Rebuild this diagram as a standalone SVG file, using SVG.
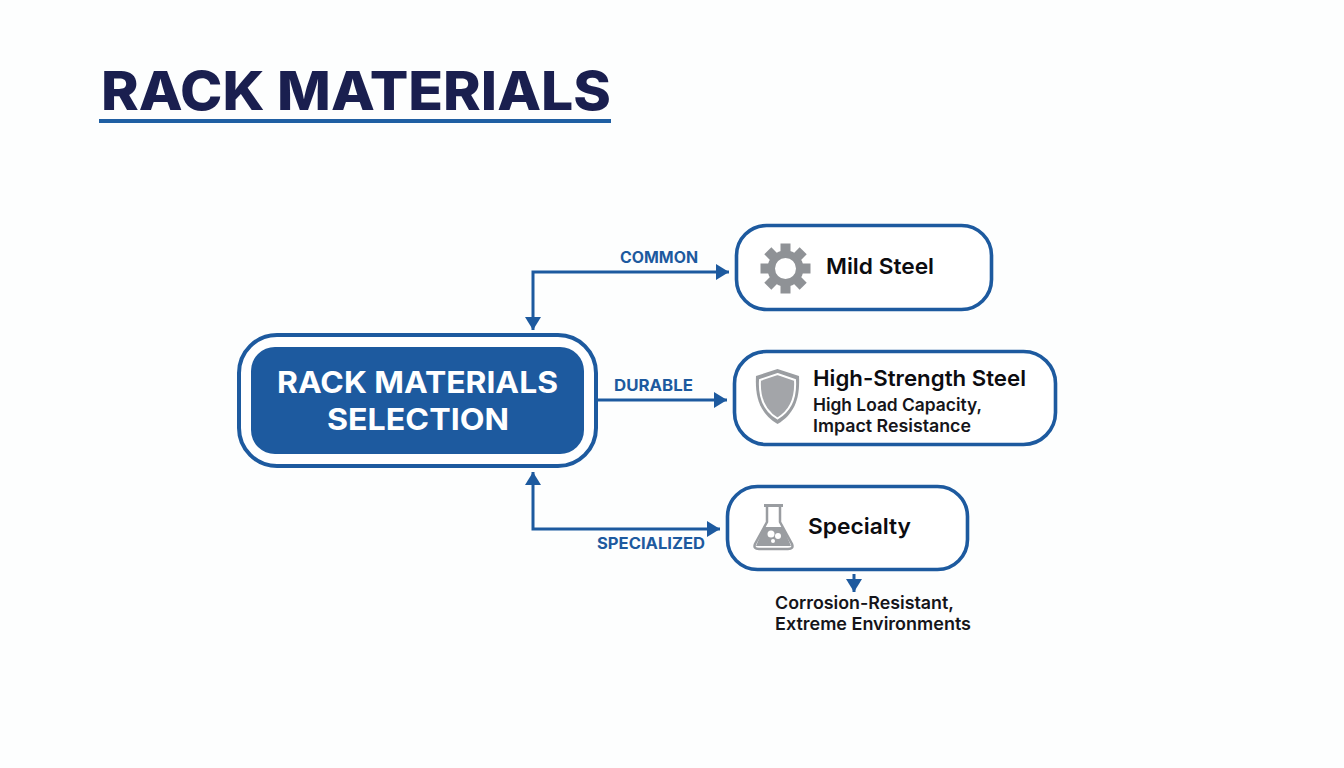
<svg xmlns="http://www.w3.org/2000/svg" width="1344" height="768" viewBox="0 0 1344 768">
<style>
text{font-family:Inter,"Liberation Sans",sans-serif}
.box{fill:#fff;stroke:#1d5a9f;stroke-width:3.600}
.con{fill:none;stroke:#1d5a9f;stroke-width:3}
.lab{font-size:15.500px;font-weight:700;fill:#1d5a9f}
.h{font-size:22px;font-weight:600;fill:#0c0c10}
.s{font-size:17.500px;font-weight:600;fill:#15151a}
.ic{fill:#8f9296}
</style>
<defs>
<marker id="arr" markerUnits="userSpaceOnUse" markerWidth="14" markerHeight="18" refX="13" refY="8" orient="auto-start-reverse"><path d="M0 0L13 8L0 16Z" fill="#1d5a9f"/></marker>
</defs>
<rect width="1344" height="768" fill="#fdfefe"/>
<g id="title">
<text x="101" y="110" font-size="54" font-weight="800" fill="#1a1f4f" textLength="510" lengthAdjust="spacingAndGlyphs">RACK MATERIALS</text>
<rect x="99" y="119" width="512" height="4" fill="#1f5fa3"/>
</g>
<g id="connectors">
<path class="con" d="M729 272H533V330" marker-start="url(#arr)" marker-end="url(#arr)"/>
<path class="con" d="M597 400H727" marker-end="url(#arr)"/>
<path class="con" d="M533 472V529H720" marker-start="url(#arr)" marker-end="url(#arr)"/>
<path class="con" d="M854 574V592" marker-end="url(#arr)"/>
<text class="lab" x="620" y="263" textLength="78" lengthAdjust="spacingAndGlyphs">COMMON</text>
<text class="lab" x="614" y="390.500" textLength="79" lengthAdjust="spacingAndGlyphs">DURABLE</text>
<text class="lab" x="597" y="549" textLength="108" lengthAdjust="spacingAndGlyphs">SPECIALIZED</text>
</g>
<g id="node-root">
<rect x="239" y="335" width="357" height="131" rx="38" fill="#fff" stroke="#1d5a9f" stroke-width="4"/>
<rect x="251" y="347" width="333" height="107" rx="24" fill="#1d5a9f"/>
<text x="277" y="393" font-size="30" font-weight="700" fill="#fff" textLength="281" lengthAdjust="spacingAndGlyphs">RACK MATERIALS</text>
<text x="327" y="430" font-size="30" font-weight="700" fill="#fff" textLength="182" lengthAdjust="spacingAndGlyphs">SELECTION</text>
</g>
<g id="node-mild">
<rect class="box" x="736.500" y="225.500" width="255" height="84" rx="30"/>
<g class="ic" transform="translate(785.500 268.500)">
<path fill-rule="evenodd" d="M-18 0a18 18 0 1 0 36 0a18 18 0 1 0 -36 0ZM-10.500 0a10.500 10.500 0 1 1 21 0a10.500 10.500 0 1 1 -21 0Z"/>
<g id="gear-teeth"><rect x="-5" y="-25" width="10" height="9"/><rect x="-5" y="16" width="10" height="9"/><rect x="16" y="-5" width="9" height="10"/><rect x="-25" y="-5" width="9" height="10"/><rect x="-5" y="-25" width="10" height="9" transform="rotate(45)"/><rect x="-5" y="-25" width="10" height="9" transform="rotate(135)"/><rect x="-5" y="-25" width="10" height="9" transform="rotate(225)"/><rect x="-5" y="-25" width="10" height="9" transform="rotate(315)"/></g>
</g>
<text class="h" x="826" y="274" textLength="108" lengthAdjust="spacingAndGlyphs">Mild Steel</text>
</g>
<g id="node-high">
<rect class="box" x="734.500" y="351.500" width="321" height="93" rx="32"/>
<path d="M777.500 369L799 376C800 396 796 413 777.500 424C759 413 755 396 756 376Z" fill="#9a9da1"/>
<path d="M777.500 374L795 380C796 396 792 410 777.500 418.500C763 410 759 396 760 380Z" fill="#a3a5a9" stroke="#fff" stroke-width="2"/>
<text class="h" x="813" y="385.500" textLength="213" lengthAdjust="spacingAndGlyphs">High-Strength Steel</text>
<text class="s" x="813" y="411" textLength="169" lengthAdjust="spacingAndGlyphs">High Load Capacity,</text>
<text class="s" x="813" y="431.500" textLength="158" lengthAdjust="spacingAndGlyphs">Impact Resistance</text>
</g>
<g id="node-specialty">
<rect class="box" x="727.500" y="486.500" width="240" height="83" rx="30"/>
<path d="M767 506V522L755 544Q753 549 759 549H788Q794 549 792 544L780 522V506" fill="none" stroke="#9a9da1" stroke-width="2.500"/>
<path d="M764 505.500H783" stroke="#9a9da1" stroke-width="3"/>
<path d="M764 527H783L791 546H756Z" fill="#9a9da1"/>
<circle cx="771" cy="534" r="3.500" fill="#fff"/><circle cx="778" cy="536" r="3" fill="#fff"/><circle cx="773" cy="541" r="2" fill="#fff"/>
<text class="h" x="808" y="534" textLength="103" lengthAdjust="spacingAndGlyphs">Specialty</text>
</g>
<g id="note-specialty">
<text class="s" x="775" y="609" textLength="179" lengthAdjust="spacingAndGlyphs">Corrosion-Resistant,</text>
<text class="s" x="775" y="630" textLength="196" lengthAdjust="spacingAndGlyphs">Extreme Environments</text>
</g>
</svg>
